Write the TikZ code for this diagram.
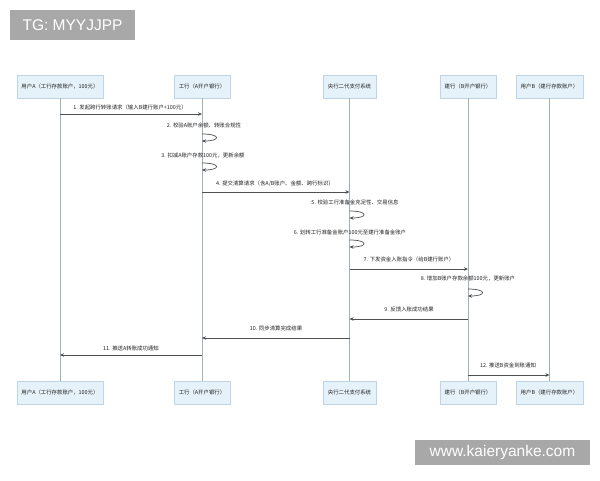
\documentclass[tikz,border=0pt]{standalone}
\usepackage{fontspec}
\setmainfont{Noto Sans CJK SC}
\newfontfamily\wmfont{Liberation Sans}
\usetikzlibrary{arrows.meta}
\definecolor{boxfill}{HTML}{E6F2F9}
\definecolor{boxline}{HTML}{BDD5E6}
\definecolor{lifecol}{HTML}{A3AFB9}
\definecolor{msgcol}{HTML}{505050}
\definecolor{txtcol}{HTML}{222222}
\definecolor{wmgrey}{HTML}{A8A8A8}
\tikzset{
  actor/.style={draw=boxline, fill=boxfill, line width=0.5pt, minimum height=23pt, inner sep=0pt, text=txtcol, font=\fontsize{5.4}{6}\selectfont},
  lifeline/.style={draw=lifecol, line width=0.9pt},
  msg/.style={draw=msgcol, line width=0.7pt, -{Stealth[length=4pt,width=3.5pt]}},
  lbl/.style={text=txtcol, font=\fontsize{5.4}{6}\selectfont, inner sep=0pt},
  wm/.style={fill=wmgrey, text=white, inner sep=0pt, font=\wmfont\fontsize{15.5}{17}\selectfont}
}
\begin{document}
\begin{tikzpicture}[x=1pt,y=-1pt]
\useasboundingbox (0,0) rectangle (600,480);
\fill[white] (0,0) rectangle (600,480);
% watermarks
\node[wm, minimum width=125pt, minimum height=30pt] (wm1) at (72.5,25) {TG: MYYJJPP};
\node[wm, minimum width=175pt, minimum height=25pt] (wm2) at (502.5,452.5) {www.kaieryanke.com};
% actors top
\node[actor, minimum width=86pt] (tA) at (60,86.5) {用户A（工行存款账户，100元）};
\node[actor, minimum width=56pt] (tI) at (202,86.5) {工行（A开户银行）};
\node[actor, minimum width=53pt] (tC) at (349.5,86.5) {央行二代支付系统};
\node[actor, minimum width=56pt] (tJ) at (468,86.5) {建行（B开户银行）};
\node[actor, minimum width=67pt] (tB) at (549.5,86.5) {用户B（建行存款账户）};
% actors bottom
\node[actor, minimum width=86pt] (bA) at (60,392.5) {用户A（工行存款账户，100元）};
\node[actor, minimum width=56pt] (bI) at (202,392.5) {工行（A开户银行）};
\node[actor, minimum width=53pt] (bC) at (349.5,392.5) {央行二代支付系统};
\node[actor, minimum width=56pt] (bJ) at (468,392.5) {建行（B开户银行）};
\node[actor, minimum width=67pt] (bB) at (549.5,392.5) {用户B（建行存款账户）};
% lifelines
\draw[lifeline] (tA) -- (bA);
\draw[lifeline] (tI) -- (bI);
\draw[lifeline] (tC) -- (bC);
\draw[lifeline] (tJ) -- (bJ);
\draw[lifeline] (tB) -- (bB);
% message coordinates
\coordinate (m1s) at (60,114);   \coordinate (m1e) at (202,114);
\coordinate (m2s) at (202,134);  \coordinate (m2e) at (202,141);
\coordinate (m3s) at (202,163);  \coordinate (m3e) at (202,170);
\coordinate (m4s) at (202,192);  \coordinate (m4e) at (349.5,192);
\coordinate (m5s) at (349.5,211);\coordinate (m5e) at (349.5,218);
\coordinate (m6s) at (349.5,240);\coordinate (m6e) at (349.5,247);
\coordinate (m7s) at (349.5,269);\coordinate (m7e) at (468,269);
\coordinate (m8s) at (468,289);  \coordinate (m8e) at (468,296);
\coordinate (m9s) at (468,319);  \coordinate (m9e) at (349.5,319);
\coordinate (m10s) at (349.5,338);\coordinate (m10e) at (202,338);
\coordinate (m11s) at (202,355); \coordinate (m11e) at (60,355);
\coordinate (m12s) at (468,375); \coordinate (m12e) at (549.5,375);
% messages
\draw[msg] (m1s) -- (m1e);
\draw[msg] (m2s) .. controls +(19,0) and +(19,0) .. (m2e);
\draw[msg] (m3s) .. controls +(19,0) and +(19,0) .. (m3e);
\draw[msg] (m4s) -- (m4e);
\draw[msg] (m5s) .. controls +(19,0) and +(19,0) .. (m5e);
\draw[msg] (m6s) .. controls +(19,0) and +(19,0) .. (m6e);
\draw[msg] (m7s) -- (m7e);
\draw[msg] (m8s) .. controls +(19,0) and +(19,0) .. (m8e);
\draw[msg] (m9s) -- (m9e);
\draw[msg] (m10s) -- (m10e);
\draw[msg] (m11s) -- (m11e);
\draw[msg] (m12s) -- (m12e);
% labels
\node[lbl] (l1) at (130,107.5) {1. 发起跨行转账请求（输入B建行账户+100元）};
\node[lbl] (l2) at (204,125.5) {2. 校验A账户余额、转账合规性};
\node[lbl] (l3) at (203,155.5) {3. 扣减A账户存款100元，更新余额};
\node[lbl] (l4) at (275,183.5) {4. 提交清算请求（含A/B账户、金额、跨行标识）};
\node[lbl] (l5) at (355,202.5) {5. 校验工行准备金充足性、交易信息};
\node[lbl] (l6) at (350,232) {6. 划转工行准备金账户100元至建行准备金账户};
\node[lbl] (l7) at (409,259.5) {7. 下发资金入账指令（给B建行账户）};
\node[lbl] (l8) at (468,278.5) {8. 增加B账户存款余额100元，更新账户};
\node[lbl] (l9) at (409,309.5) {9. 反馈入账成功结果};
\node[lbl] (l10) at (276,328.5) {10. 同步清算完成结果};
\node[lbl] (l11) at (131,348) {11. 推送A转账成功通知};
\node[lbl] (l12) at (508,365.5) {12. 推送B资金到账通知};
\end{tikzpicture}
\end{document}
